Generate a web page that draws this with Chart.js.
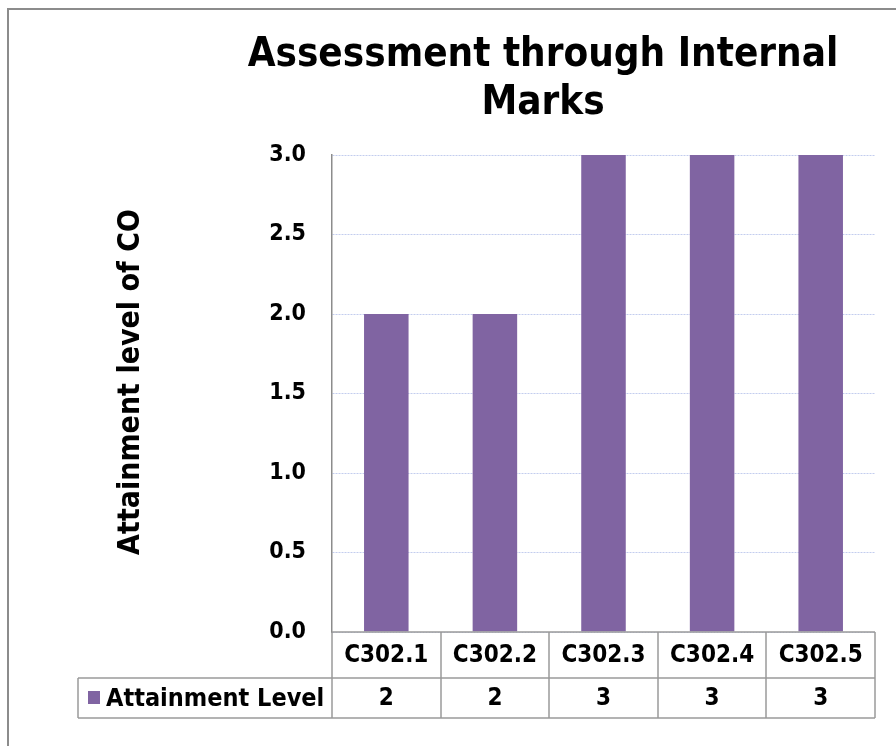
<!DOCTYPE html>
<html>
<head>
<meta charset="utf-8">
<script src="https://cdn.jsdelivr.net/npm/chart.js@4.4.0/dist/chart.umd.min.js"></script>
<style>
  html, body { margin: 0; padding: 0; background: #fff; }
  #wrap { width: 896px; height: 746px; }
</style>
</head>
<body>
<div id="wrap"><canvas id="coChart" width="896" height="746"></canvas></div>
<script>
const categories = ['C302.1', 'C302.2', 'C302.3', 'C302.4', 'C302.5'];
const attainment = [2, 2, 3, 3, 3];
const yTicks = [0, 0.5, 1, 1.5, 2, 2.5, 3];
const seriesName = 'Attainment Level';
const titleLines = ['Assessment through Internal', 'Marks'];
const yTitle = 'Attainment level of CO';

const FONT = '"DejaVu Sans Condensed", "DejaVu Sans", sans-serif';
const BAR = '#8064A2';
const LINE = '#9a9a9a';

// frame, chart title, axis title
const framePlugin = {
    id: 'frame',
    beforeDraw(chart) {
        const ctx = chart.ctx;
        ctx.save();
        ctx.fillStyle = '#fff';
        ctx.fillRect(0, 0, chart.width, chart.height);
        ctx.strokeStyle = '#8c8c8c';
        ctx.lineWidth = 2;
        ctx.strokeRect(8, 9, chart.width + 20, chart.height + 20);
        ctx.restore();
    },
    afterDraw(chart) {
        const ctx = chart.ctx;
        ctx.save();
        ctx.fillStyle = '#000';
        ctx.font = 'bold 40px ' + FONT;
        ctx.textAlign = 'center';
        ctx.textBaseline = 'middle';
        ctx.fillText(titleLines[0], 543, 56);
        ctx.fillText(titleLines[1], 543, 104);

        ctx.font = 'bold 30px ' + FONT;
        ctx.translate(131, 382);
        ctx.rotate(-Math.PI / 2);
        ctx.fillText(yTitle, 0, 0);
        ctx.restore();
    }
};

// Excel-style data table under the plot
const tablePlugin = {
    id: 'dataTable',
    afterDraw(chart) {
        const ctx = chart.ctx;
        const x = chart.scales.x;
        const area = chart.chartArea;
        const row1 = area.bottom, row2 = area.bottom + 46, row3 = area.bottom + 86;
        const band = (area.right - area.left) / categories.length;
        const legendLeft = 78;
        ctx.save();
        ctx.strokeStyle = LINE;
        ctx.lineWidth = 1.5;
        ctx.beginPath();
        ctx.moveTo(area.left, row1); ctx.lineTo(area.right, row1);
        ctx.moveTo(legendLeft, row2); ctx.lineTo(area.right, row2);
        ctx.moveTo(legendLeft, row3); ctx.lineTo(area.right, row3);
        ctx.moveTo(legendLeft, row2); ctx.lineTo(legendLeft, row3);
        for (let i = 0; i <= categories.length; i++) {
            const px = Math.round(area.left + i * band);
            ctx.moveTo(px, row1); ctx.lineTo(px, row3);
        }
        ctx.stroke();

        ctx.fillStyle = '#000';
        ctx.font = 'bold 24px ' + FONT;
        ctx.textAlign = 'center';
        ctx.textBaseline = 'middle';
        categories.forEach((c, i) => {
            const cx = x.getPixelForValue(i);
            ctx.fillText(c, cx, (row1 + row2) / 2 + 1);
            ctx.fillText(String(attainment[i]), cx, (row2 + row3) / 2 + 1);
        });

        ctx.fillStyle = BAR;
        ctx.fillRect(88, (row2 + row3) / 2 - 7, 12, 13);
        ctx.fillStyle = '#000';
        ctx.textAlign = 'left';
        ctx.font = 'bold 25px ' + FONT;
        ctx.fillText(seriesName, 106, (row2 + row3) / 2 + 1);
        ctx.restore();
    }
};

new Chart(document.getElementById('coChart'), {
    type: 'bar',
    data: {
        labels: categories,
        datasets: [{
            label: seriesName,
            data: attainment,
            backgroundColor: BAR,
            barPercentage: 0.41,
            categoryPercentage: 1.0
        }]
    },
    options: {
        responsive: false,
        animation: false,
        layout: { padding: { left: 0, right: 21, top: 155, bottom: 114 } },
        plugins: {
            legend: { display: false },
            title: { display: false },
            tooltip: { enabled: false }
        },
        scales: {
            x: { display: false },
            y: {
                min: 0,
                max: 3,
                afterFit(scale) { scale.width = 332; },
                afterBuildTicks(scale) { scale.ticks = yTicks.map(v => ({ value: v })); },
                ticks: {
                    padding: 26,
                    color: '#000',
                    font: { family: FONT, size: 23, weight: 'bold' },
                    callback: v => Number(v).toFixed(1)
                },
                grid: {
                    color: '#c3cdee',
                    lineWidth: 1,
                    drawTicks: false
                },
                border: { display: true, color: '#8c8c8c', width: 1.5, dash: [2, 1] }
            }
        }
    },
    plugins: [framePlugin, tablePlugin]
});
</script>
</body>
</html>
